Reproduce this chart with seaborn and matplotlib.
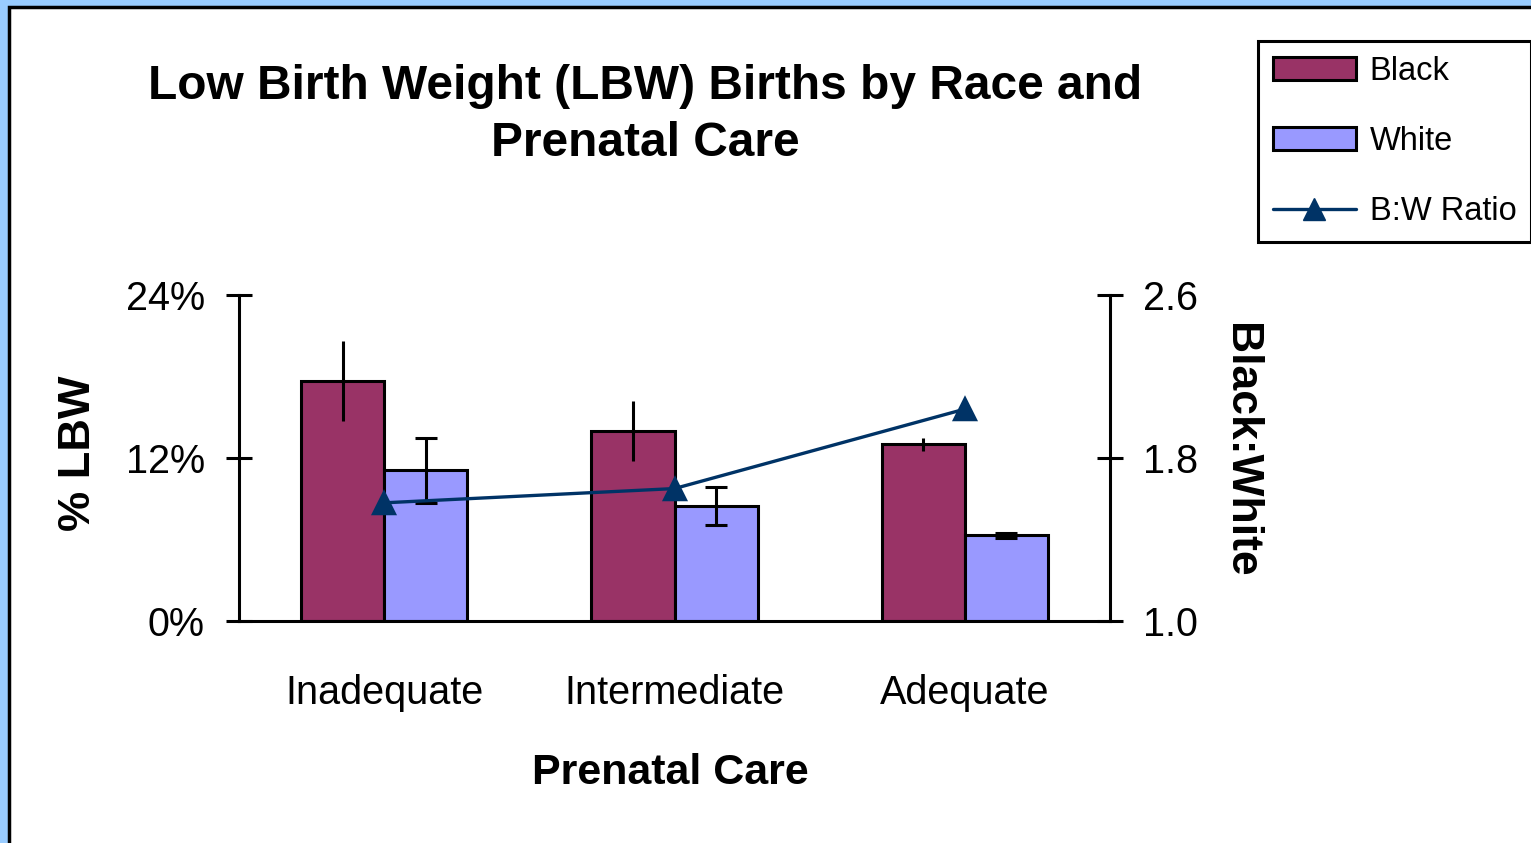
import numpy as np
import pandas as pd
import matplotlib
matplotlib.use("Agg")
import matplotlib.pyplot as plt
import seaborn as sns
from matplotlib.patches import Patch, Rectangle
from matplotlib.lines import Line2D
from matplotlib.ticker import FuncFormatter

# values
care = ["Inadequate", "Intermediate", "Adequate"]
black_pct = [17.7, 14.0, 13.0]
white_pct = [11.1, 8.5, 6.3]
black_err = [2.95, 2.2, 0.5]
white_err = [2.4, 1.4, 0.2]
ratio = [1.58, 1.65, 2.04]

bar_colors = ["#993366", "#9999FF"]
line_color = "#003366"

sns.set_style("white")
plt.rcParams["font.family"] = ["Liberation Sans", "DejaVu Sans"]
plt.rcParams["text.color"] = "black"
plt.rcParams["xtick.color"] = "black"
plt.rcParams["ytick.color"] = "black"
plt.rcParams["axes.labelcolor"] = "black"

df = pd.DataFrame({
    "care": care * 2,
    "pct": black_pct + white_pct,
    "race": ["Black"] * 3 + ["White"] * 3,
})

fig = plt.figure(figsize=(15.31, 8.43), dpi=100)
fig.patch.set_facecolor("#99CCFF")
# white chart area with black frame (cut off at right and bottom)
fig.patches.append(Rectangle((9 / 1531, -0.1), 1.2, 1.1 - 7 / 843,
                             transform=fig.transFigure, facecolor="white",
                             edgecolor="black", linewidth=2.5, zorder=-10))

ax = fig.add_axes([239 / 1531, 1 - 621 / 843, 871 / 1531, 326 / 843])
ax.set_facecolor("none")
sns.barplot(data=df, x="care", y="pct", hue="race", palette=bar_colors,
            saturation=1, width=0.572, edgecolor="black", linewidth=2.2,
            errorbar=None, legend=False, ax=ax)

# error bars: black ones without caps, white ones with caps
for cont, err, cap in zip(ax.containers, [black_err, white_err], [0, 8]):
    xs = [p.get_x() + p.get_width() / 2 for p in cont.patches]
    ys = [p.get_height() for p in cont.patches]
    ax.errorbar(xs, ys, yerr=err, fmt="none", ecolor="black",
                elinewidth=2.2, capsize=cap, capthick=2.2, zorder=5)

ax.set_xlim(-0.5, 2.5)
ax.set_ylim(0, 24)
ax.set_yticks([0, 12, 24])
ax.yaxis.set_major_formatter(FuncFormatter(lambda v, p: f"{v:.0f}%"))
ax.set_xticks([0, 1, 2])
ax.set_xticklabels(care)
ax.set_xticks([-0.5, 0.5, 1.5, 2.5], minor=True)
ax.tick_params(axis="x", which="major", length=0, pad=38, labelsize=28.5)
ax.tick_params(axis="x", which="minor", length=21, width=2.2,
               direction="inout", color="black")
ax.tick_params(axis="y", length=19, width=2.2, direction="inout",
               pad=15, labelsize=28.5, color="black", left=True)
for s in ["left", "bottom"]:
    ax.spines[s].set_color("black")
    ax.spines[s].set_linewidth(2.2)
ax.spines["top"].set_visible(False)
ax.spines["right"].set_visible(False)
ax.set_xlabel("")
ax.set_ylabel("")

ax2 = ax.twinx()
sns.pointplot(x=care, y=ratio, color=line_color, markers="^",
              linestyles="-", ax=ax2, markersize=16, linewidth=2.4)
ax2.set_xlim(-0.5, 2.5)
ax2.set_ylim(1.0, 2.6)
ax2.set_yticks([1.0, 1.8, 2.6])
ax2.yaxis.set_major_formatter(FuncFormatter(lambda v, p: f"{v:.1f}"))
ax2.tick_params(axis="y", length=19, width=2.2, direction="inout",
                pad=14, labelsize=28.5, color="black", right=True)
for s in ["left", "top", "bottom"]:
    ax2.spines[s].set_visible(False)
ax2.spines["right"].set_color("black")
ax2.spines["right"].set_linewidth(2.2)
ax2.set_ylabel("")
ax2.set_xlabel("")

fig.text(645 / 1531, 1 - 64 / 843,
         "Low Birth Weight (LBW) Births by Race and\nPrenatal Care",
         ha="center", va="top", fontsize=34.5, fontweight="bold",
         linespacing=1.33)
fig.text(78 / 1531, 1 - 453 / 843, "% LBW", rotation=90, ha="center",
         va="center", fontsize=32.5, fontweight="bold")
fig.text(1240 / 1531, 1 - 450 / 843, "Black:White", rotation=270,
         ha="center", va="center", fontsize=32, fontweight="bold")
fig.text(670 / 1531, 1 - 773 / 843, "Prenatal Care", ha="center",
         va="center", fontsize=31, fontweight="bold")

handles = [
    Patch(facecolor=bar_colors[0], edgecolor="black", linewidth=2.2),
    Patch(facecolor=bar_colors[1], edgecolor="black", linewidth=2.2),
    Line2D([], [], color=line_color, linewidth=2.4, marker="^",
           markersize=16),
]
leg = fig.legend(handles, ["Black", "White", "B:W Ratio"],
                 loc="upper left", bbox_to_anchor=(1258 / 1531, 1 - 41 / 843),
                 fontsize=23.5, frameon=True, fancybox=False, borderpad=0.45,
                 handlelength=2.55, handletextpad=0.42, labelspacing=1.2,
                 borderaxespad=0)
leg.get_frame().set_edgecolor("black")
leg.get_frame().set_linewidth(2.2)
leg.get_frame().set_facecolor("white")
leg.get_frame().set_alpha(1)

fig.savefig("out.png", dpi=100, facecolor=fig.get_facecolor())
